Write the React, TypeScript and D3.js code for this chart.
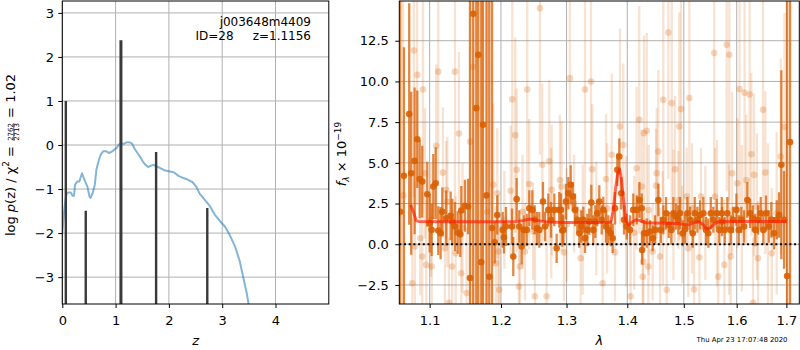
import { useEffect, useRef } from "react";
import * as d3 from "d3";

const WIDTH = 800;
const HEIGHT = 350;
const FONT = "'DejaVu Sans', sans-serif";

const PZ = { left: 62.3, right: 328.8, top: 1, bottom: 304 };
const SP = { left: 399.3, right: 799.3, top: 1, bottom: 304 };

const ORANGE = "#d95f02";

// ---- p(z) panel
const pzZ = [
  0, 0.02, 0.05, 0.08, 0.11, 0.16, 0.19, 0.22, 0.24, 0.28, 0.32, 0.34, 0.37, 0.39, 0.43,
  0.47, 0.51, 0.53, 0.57, 0.61, 0.64, 0.68, 0.72, 0.77, 0.82, 0.87, 0.92, 0.97, 1.02, 1.06,
  1.11, 1.16, 1.21, 1.26, 1.31, 1.36, 1.41, 1.46, 1.51, 1.56, 1.61, 1.64, 1.71, 1.76, 1.83,
  1.93, 2.02, 2.09, 2.18, 2.27, 2.36, 2.44, 2.51, 2.58, 2.67, 2.77, 2.86, 2.96, 3.05, 3.14,
  3.24, 3.33, 3.39, 3.46, 3.52, 3.56,
];
const pzLog = [
  -2.0, -1.7, -1.32, -1.11, -1.08, -1.08, -1.15, -1.15, -0.9, -0.83, -0.83, -0.75, -0.64, -0.71, -0.83,
  -0.94, -1.17, -1.2, -1.09, -0.9, -0.56, -0.37, -0.22, -0.14, -0.14, -0.18, -0.16, -0.11, -0.07, 0.01,
  0.03, 0.03, 0.06, 0.06, 0.03, -0.09, -0.18, -0.27, -0.37, -0.45, -0.5, -0.48, -0.45, -0.48, -0.52,
  -0.58, -0.6, -0.62, -0.7, -0.75, -0.79, -0.84, -0.94, -1.11, -1.24, -1.39, -1.58, -1.73, -1.85, -2.04,
  -2.3, -2.64, -2.98, -3.36, -3.8, -4.2,
];
const peakZ = [0.066, 0.44, 1.1, 1.76, 2.72];
const peakLog = [1.0, -1.49, 2.38, -0.16, -1.43];
const pzTicksX = [0, 1, 2, 3, 4];
const pzTicksY = [-3, -2, -1, 0, 1, 2, 3];

// ---- spectrum panel
const darkWave = [
  1.0612, 1.066, 1.0729, 1.0755, 1.08, 1.0835, 1.0867, 1.0901, 1.0968, 1.1, 1.1027, 1.1049, 1.1081,
  1.1116, 1.1148, 1.1171, 1.1225, 1.1285, 1.1308, 1.1345, 1.1383, 1.1419, 1.1433, 1.1484, 1.1527,
  1.1555, 1.1601, 1.1644, 1.1672, 1.1715, 1.174, 1.179, 1.183, 1.187,
  1.1909, 1.1946, 1.2025, 1.2044, 1.2073, 1.2163, 1.2182, 1.2232, 1.2271, 1.2307, 1.2338, 1.2383,
  1.2422, 1.2468, 1.2504, 1.2539, 1.2575, 1.2631, 1.2663, 1.2714, 1.2756, 1.2807, 1.2844, 1.2885, 1.2933,
  1.2912, 1.2949, 1.2991, 1.3028, 1.3066, 1.3098, 1.3135, 1.3172, 1.3204, 1.3237, 1.3269, 1.3296,
  1.3334, 1.3366, 1.3399, 1.3431, 1.3465, 1.3497, 1.353, 1.357, 1.3596, 1.3641, 1.3679, 1.372,
  1.3753, 1.3792, 1.3831, 1.3864, 1.3898, 1.3944, 1.399, 1.4047, 1.4103, 1.4163, 1.4208, 1.4255,
  1.4249, 1.4289, 1.4336, 1.4394, 1.4441, 1.4482, 1.4541, 1.4584, 1.463, 1.4679, 1.4726, 1.4773,
  1.481, 1.4859, 1.49, 1.4931, 1.4981, 1.5023, 1.5065, 1.5115, 1.5165, 1.5201, 1.525, 1.53, 1.5362,
  1.5412, 1.5455, 1.5502, 1.555, 1.5615, 1.5664, 1.5711,
  1.5716, 1.5768, 1.5818, 1.5884, 1.593, 1.5994, 1.604, 1.6091, 1.6144, 1.6209, 1.6263, 1.6316,
  1.6368, 1.6423, 1.6477, 1.6528, 1.6583, 1.6638, 1.6691, 1.6746, 1.6801, 1.6849, 1.6896, 1.6952,
  1.7015, 1.7076,
];
const darkFlux = [
  2.0, 4.2, 8.0, 4.36, 5.12, 6.45, 4.0, 3.85, 3.07, 1.29, 0.88, 3.55, 3.75,
  0.84, 0.68, 1.99, 1.6, 1.74, 1.39, 1.09, 0.72, 0.61, 2.07, 2.36, 2.32,
  -2.07, 14.16, 8.36, 11.64, -1.1, 7.34, 3.0, -2.0, 1.0,
  0.12, 1.8, 0.88, 0.43, 1.09, 1.09, -0.76, 2.77, 1.09, -0.14, 0.88, 0.88,
  2.21, 2.11, 1.5, 0.98, 0.88, 2.62, 1.09, 2.11, 1.5, 2.11, -0.25, 2.11, 0.84,
  2.11, 0.88, 2.62, 3.13, 3.65, 2.93, 2.11, 1.5, 0.68, 1.09, 1.5, 0.37,
  0.88, 1.39, 2.56, 0.88, 1.39, 1.9, 2.62, 1.5, 2.11, 1.09, 0.88, 0.68,
  0.37, 2.21, 4.57, 5.39, 3.13, 1.5, 1.09, 0.88, 2.11, 2.11, 2.72, -0.35,
  2.21, 0.68, 0.68, 0.78, 0.37, 0.88, 2.72, 0.88, 1.5, 1.9, 1.19, 0.88,
  1.9, 1.7, 1.5, 1.9, 0.68, 0.92, 1.9, 1.5, 0.68, 1.9, 1.5, 1.8, 1.9,
  0.88, 0.68, 1.9, 1.5, 1.9, 0.88, 1.9,
  1.39, 0.88, 1.9, 0.88, 1.5, 2.11, 0.88, 1.5, 1.09, 2.72, 1.9, 1.6,
  0.88, 1.5, 1.9, 0.88, 1.9, 1.09, 1.5, 0.68, 1.5, 1.8, 4.88, 1.5,
  -1.95, 6.27,
];
const darkErr = [
  20, 7.9, 6.8, 5, 4.5, 3.0, 2.4, 2.2, 2.0, 1.8, 1.6, 2.0, 2.2,
  1.5, 1.6, 1.5, 1.7, 1.5, 1.4, 1.5, 1.3, 1.4, 1.5, 1.6, 1.7,
  20, 20, 20, 20, 20, 20, 20, 18, 16,
  1.3, 1.2, 1.1, 1.0, 1.2, 1.1, 1.2, 1.3, 1.0, 1.1, 0.9, 1.0,
  1.1, 1.2, 0.9, 1.0, 1.1, 1.2, 0.9, 1.0, 1.1, 1.0, 0.9, 1.1, 1.0,
  1.0, 0.9, 1.1, 1.0, 1.2, 0.9, 1.0, 0.8, 0.9, 1.0, 0.8, 0.9,
  1.0, 0.8, 1.1, 0.9, 1.0, 0.8, 1.0, 0.9, 0.8, 1.0, 0.9, 0.8,
  0.9, 1.0, 1.0, 1.1, 1.0, 0.9, 0.8, 0.9, 1.0, 0.9, 1.1, 0.9,
  0.9, 0.8, 0.9, 0.7, 0.8, 0.9, 1.0, 0.8, 0.9, 1.0, 0.8, 0.9,
  1.0, 0.8, 0.9, 1.0, 0.8, 0.9, 1.0, 0.8, 0.9, 1.0, 0.8, 0.9, 1.0,
  0.8, 0.9, 1.0, 0.8, 0.9, 0.8, 1.0,
  0.9, 0.8, 1.0, 0.9, 0.8, 1.0, 0.9, 0.8, 1.0, 1.1, 0.9, 0.8,
  1.0, 0.9, 1.0, 0.9, 1.1, 1.0, 1.1, 1.0, 1.2, 1.4, 5.8, 3.0,
  20, 20,
];

const lightWave = [
  1.065, 1.0769, 1.0791, 1.0804, 1.0834, 1.0874, 1.0901, 1.091, 1.0937, 1.0954, 1.102, 1.1027,
  1.1089, 1.1116, 1.118, 1.1207, 1.1225, 1.124, 1.1262, 1.1307, 1.1345, 1.1355, 1.14, 1.1432,
  1.145, 1.1508, 1.1559, 1.1597, 1.18, 1.1888, 1.1927, 1.1946, 1.1961, 1.1975, 1.205, 1.2143,
  1.2167, 1.2211, 1.2232, 1.2266, 1.2281, 1.232, 1.2356, 1.2391, 1.2421, 1.248, 1.2508, 1.2584,
  1.262, 1.2688, 1.2728, 1.276, 1.2766, 1.2895, 1.2922, 1.2958, 1.3, 1.3053, 1.312, 1.3226,
  1.326, 1.3296, 1.3394, 1.3415, 1.348, 1.3586, 1.3641, 1.366, 1.3737, 1.3792, 1.3876, 1.3932,
  1.398, 1.4058, 1.412, 1.4161, 1.4206, 1.4248, 1.4266, 1.4276, 1.4288, 1.4336, 1.4364, 1.437,
  1.4441, 1.45, 1.4512, 1.454, 1.4571, 1.462, 1.4629, 1.469, 1.4719, 1.478, 1.481, 1.484,
  1.49, 1.4918, 1.4949, 1.497, 1.5053, 1.5083, 1.5101, 1.515, 1.5188, 1.5287, 1.5318, 1.54,
  1.5568, 1.5582, 1.562, 1.5644, 1.576, 1.5806, 1.585, 1.5856, 1.5883, 1.5909, 1.6012, 1.6055,
  1.61, 1.6154, 1.6189, 1.6253, 1.6288, 1.6322, 1.6342, 1.64, 1.6422, 1.6522, 1.6569, 1.662,
  1.6699, 1.68, 1.6884, 1.6962,
];
const lightFlux = [
  3.0, -2.4, 11.9, -0.14, 10.4, 0.37, -0.76, 9.5, 4.36, -1.27, 1.5, -1.37,
  6.05, 10.6, 4.4, -0.25, 3.34, 2.6, -3.6, -1.37, 10.6, -0.55, 6.8, -1.78,
  1.0, -3.0, 6.3, 10.9, 2.0, 3.65, -1.17, 3.13, -0.45, -2.8, 1.5, 3.28,
  8.9, 6.7, 4.57, -2.6, -1.37, 2.0, -0.45, 9.5, 3.7, 0.8, -3.2, 14.5,
  4.88, -3.2, 5.1, 1.9, 3.34, 3.95, 3.55, -0.5, 1.2, 10.2, 2.5, -0.86,
  0.9, 9.5, 10.0, 4.6, 1.6, -2.4, 4.0, 2.2, 5.5, -0.5, 7.23, 6.1,
  1.4, -3.2, 0.7, 4.67, 7.64, 3.55, -2.0, -1.07, 6.82, 6.97, -1.37, 2.1,
  -0.45, 3.6, 4.36, 5.7, -0.76, 1.0, 8.87, -2.8, 13.0, 8.67, 1.8, 4.6,
  2.72, 7.23, 8.3, 0.6, 2.93, -0.25, 8.98, 2.2, -2.77, -0.8, 2.93, 1.3,
  11.74, 2.93, 1.9, -1.99, -1.27, 12.25, 0.9, 11.64, -0.76, 4.36, 3.75, 9.53,
  1.6, 9.3, 3.95, 9.2, 5.53, -3.6, 4.26, 2.3, -0.86, 8.26, 4.4, 1.2,
  -0.55, 1.9, 5.39, 7.2,
];
const lightErr = [
  15, 4, 9, 4, 8, 3.5, 4, 7, 4, 4, 3.5, 3.5,
  5, 7, 4, 3.5, 3, 4, 4, 3.5, 8, 3.5, 5, 3.5,
  4, 4, 12, 15, 16, 5, 3.5, 4, 3.5, 4, 3, 4,
  8, 6, 5, 4, 3, 3.5, 3, 7, 4, 3, 4, 9,
  5, 4, 5, 4, 4, 4, 4, 3, 3.5, 8, 3, 3,
  4, 8, 8, 4, 3.5, 4, 4, 4, 5, 3, 6, 5,
  4, 4, 3.5, 5, 7, 3.5, 3, 3, 6, 6, 3, 4,
  3, 3.5, 4, 5, 3, 3.5, 8, 4, 9, 8, 4, 4.5,
  3, 7, 7, 3, 3, 3, 7, 4, 4, 3, 3, 3.5,
  9, 3, 4.5, 4, 4, 9, 4, 9, 3, 5, 4, 8,
  4.5, 8, 4, 8, 5, 4, 5, 4.5, 3.5, 7, 5, 5,
  4, 5, 6, 7,
];

const modelWave = [
  1.0747, 1.0791, 1.082, 1.085, 1.15, 1.22, 1.232, 1.243, 1.255, 1.27, 1.3, 1.35, 1.372, 1.376,
  1.38, 1.384, 1.387, 1.39, 1.394, 1.398, 1.402, 1.408, 1.415, 1.422, 1.432, 1.45, 1.49, 1.5,
  1.51, 1.518, 1.528, 1.536, 1.541, 1.546, 1.552, 1.558, 1.565, 1.6, 1.65, 1.701,
];
const modelFlux = [
  2.42, 1.9, 1.45, 1.4, 1.38, 1.38, 1.45, 1.55, 1.45, 1.36, 1.33, 1.33, 1.35, 2.0,
  3.4, 4.4, 4.6, 4.0, 2.6, 1.4, 1.2, 1.35, 1.5, 1.45, 1.32, 1.3, 1.28, 1.22,
  1.2, 1.32, 1.38, 1.2, 0.98, 0.95, 1.1, 1.3, 1.38, 1.4, 1.4, 1.4,
];
const spTicksX = [1.1, 1.2, 1.3, 1.4, 1.5, 1.6, 1.7];
const spTicksY = [-2.5, 0, 2.5, 5, 7.5, 10, 12.5];

type Pt = { w: number; f: number; e: number };

export default function App() {
  const svgRef = useRef<SVGSVGElement | null>(null);

  useEffect(() => {
    if (!svgRef.current) return;
    const svg = d3.select(svgRef.current);
    svg.selectAll("*").remove();

    const defs = svg.append("defs");
    defs.append("clipPath").attr("id", "clip-pz").append("rect")
      .attr("x", PZ.left).attr("y", PZ.top)
      .attr("width", PZ.right - PZ.left).attr("height", PZ.bottom - PZ.top);
    defs.append("clipPath").attr("id", "clip-sp").append("rect")
      .attr("x", SP.left).attr("y", SP.top)
      .attr("width", SP.right - SP.left).attr("height", SP.bottom - SP.top);

    const styleAxis = (g: any) => {
      g.attr("font-family", null).attr("font-size", null);
      g.selectAll(".domain").remove();
      g.selectAll("line").attr("stroke", "#000").attr("stroke-width", 1);
      g.selectAll("text").attr("fill", "#000")
        .style("font-family", FONT).style("font-size", "13px");
    };

    // ================= left: log p(z)
    const zx = d3.scaleLinear().domain([0, 5]).range([PZ.left, PZ.right]);
    const zy = d3.scaleLinear().domain([-3.61, 3.27]).range([PZ.bottom, PZ.top]);

    const pzGrid = svg.append("g").attr("stroke", "#b0b0b0").attr("stroke-width", 1);
    pzGrid.selectAll("line.vx").data(pzTicksX).enter().append("line")
      .attr("x1", (d: number) => zx(d)).attr("x2", (d: number) => zx(d))
      .attr("y1", PZ.top).attr("y2", PZ.bottom);
    pzGrid.selectAll("line.hy").data(pzTicksY).enter().append("line")
      .attr("x1", PZ.left).attr("x2", PZ.right)
      .attr("y1", (d: number) => zy(d)).attr("y2", (d: number) => zy(d));

    const pzPlot = svg.append("g").attr("clip-path", "url(#clip-pz)");
    pzPlot.append("path")
      .datum(pzZ.map((z, i) => [z, pzLog[i]] as [number, number]))
      .attr("fill", "none")
      .attr("stroke", "#1f77b4")
      .attr("stroke-opacity", 0.55)
      .attr("stroke-width", 2)
      .attr("stroke-linejoin", "round")
      .attr("d", d3.line<[number, number]>().x((d) => zx(d[0])).y((d) => zy(d[1])));

    pzPlot.selectAll("line.peak").data(peakZ).enter().append("line")
      .attr("x1", (d: number) => zx(d)).attr("x2", (d: number) => zx(d))
      .attr("y1", PZ.bottom)
      .attr("y2", (_d: number, i: number) => zy(peakLog[i]))
      .attr("stroke", "#3a3a3a")
      .attr("stroke-width", (_d: number, i: number) => (i === 2 ? 3 : 2.4));

    svg.append("g")
      .attr("transform", `translate(0,${PZ.bottom})`)
      .call(d3.axisBottom(zx).tickValues(pzTicksX).tickFormat(d3.format("d")).tickSize(4).tickPadding(8).tickSizeOuter(0))
      .call(styleAxis);
    svg.append("g")
      .attr("transform", `translate(${PZ.left},0)`)
      .call(d3.axisLeft(zy).tickValues(pzTicksY).tickFormat(d3.format("d")).tickSize(4).tickPadding(4.3).tickSizeOuter(0))
      .call(styleAxis);

    svg.append("rect")
      .attr("x", PZ.left).attr("y", PZ.top)
      .attr("width", PZ.right - PZ.left).attr("height", PZ.bottom - PZ.top)
      .attr("fill", "none").attr("stroke", "#000").attr("stroke-width", 1);

    const ann = svg.append("g").style("font-family", FONT).style("font-size", "12px");
    ann.append("text").attr("x", 311).attr("y", 26).attr("text-anchor", "end").text("j003648m4409");
    ann.append("text").attr("x", 311).attr("y", 40).attr("text-anchor", "end")
      .style("white-space", "pre").text("ID=28     z=1.1156");

    svg.append("text")
      .attr("x", (PZ.left + PZ.right) / 2).attr("y", 345)
      .attr("text-anchor", "middle")
      .style("font-family", FONT).style("font-size", "13px").style("font-style", "italic")
      .text("z");

    // y label with a small fraction, laid out piece by piece
    const lab = svg.append("g").attr("transform", "translate(14.5,155) rotate(-90)")
      .style("font-family", FONT);
    const inner = lab.append("g");
    let cx = 0;
    const piece = (s: string, size: number, y: number, italic = false) => {
      const t = inner.append("text").attr("x", cx).attr("y", y)
        .style("font-size", `${size}px`).style("white-space", "pre")
        .style("font-style", italic ? "italic" : "normal").text(s);
      const w = (t.node() as SVGTextElement).getComputedTextLength();
      cx += w;
      return w;
    };
    piece("log ", 13, 0);
    piece("p", 13, 0, true);
    piece("(z) / \u03c7", 13, 0);
    piece("2", 9, -5.5);
    piece(" = ", 13, 0);
    const fx = cx + 1;
    const num = inner.append("text").attr("x", fx).attr("y", -1.6).style("font-size", "7px").text("2762");
    const den = inner.append("text").attr("x", fx).attr("y", 4.8).style("font-size", "7px").text("2713");
    const fw = Math.max(
      (num.node() as SVGTextElement).getComputedTextLength(),
      (den.node() as SVGTextElement).getComputedTextLength(),
    );
    inner.append("line").attr("x1", fx).attr("x2", fx + fw).attr("y1", -0.7).attr("y2", -0.7)
      .attr("stroke", "#000").attr("stroke-width", 0.6);
    cx = fx + fw + 1;
    piece(" = 1.02", 13, 0);
    inner.attr("transform", `translate(${-cx / 2},0)`);

    // ================= right: spectrum
    const wx = d3.scaleLog().domain([1.06, 1.727]).range([SP.left, SP.right]);
    const fy = d3.scaleLinear().domain([-3.67, 14.94]).range([SP.bottom, SP.top]);

    const spGrid = svg.append("g").attr("stroke", "#b0b0b0").attr("stroke-width", 1);
    spGrid.selectAll("line.vx").data(spTicksX).enter().append("line")
      .attr("x1", (d: number) => wx(d)).attr("x2", (d: number) => wx(d))
      .attr("y1", SP.top).attr("y2", SP.bottom);
    spGrid.selectAll("line.hy").data(spTicksY).enter().append("line")
      .attr("x1", SP.left).attr("x2", SP.right)
      .attr("y1", (d: number) => fy(d)).attr("y2", (d: number) => fy(d));

    const light: Pt[] = lightWave.map((w, i) => ({ w, f: lightFlux[i], e: lightErr[i] }));
    const dark: Pt[] = darkWave.map((w, i) => ({ w, f: darkFlux[i], e: darkErr[i] }));

    const spPlot = svg.append("g").attr("clip-path", "url(#clip-sp)");

    const drawSeries = (data: Pt[], cls: string, barOp: number, dotOp: number) => {
      spPlot.selectAll(`line.${cls}`).data(data).enter().append("line")
        .attr("class", cls)
        .attr("x1", (d: Pt) => wx(d.w)).attr("x2", (d: Pt) => wx(d.w))
        .attr("y1", (d: Pt) => fy(d.f - d.e)).attr("y2", (d: Pt) => fy(d.f + d.e))
        .attr("stroke", ORANGE).attr("stroke-opacity", barOp).attr("stroke-width", 2.3);
      spPlot.selectAll(`circle.${cls}`).data(data).enter().append("circle")
        .attr("class", cls)
        .attr("cx", (d: Pt) => wx(d.w)).attr("cy", (d: Pt) => fy(d.f))
        .attr("r", 3.3)
        .attr("fill", ORANGE).attr("fill-opacity", dotOp);
    };
    drawSeries(light, "light", 0.18, 0.25);
    drawSeries(dark, "dark", 0.75, 0.9);

    spPlot.append("path")
      .datum(modelWave.map((w, i) => [w, modelFlux[i]] as [number, number]))
      .attr("fill", "none")
      .attr("stroke", "#ff1a00")
      .attr("stroke-opacity", 0.65)
      .attr("stroke-width", 3)
      .attr("stroke-linejoin", "round")
      .attr("d", d3.line<[number, number]>().x((d) => wx(d[0])).y((d) => fy(d[1])));

    spPlot.append("line")
      .attr("x1", SP.left).attr("x2", SP.right)
      .attr("y1", fy(0)).attr("y2", fy(0))
      .attr("stroke", "#000").attr("stroke-width", 2)
      .attr("stroke-dasharray", "2,2.7");

    svg.append("g")
      .attr("transform", `translate(0,${SP.bottom})`)
      .call(d3.axisBottom(wx).tickValues(spTicksX).tickFormat(d3.format(".1f")).tickSize(4).tickPadding(8).tickSizeOuter(0))
      .call(styleAxis);
    svg.append("g")
      .attr("transform", `translate(${SP.left},0)`)
      .call(d3.axisLeft(fy).tickValues(spTicksY).tickFormat(d3.format(".1f")).tickSize(4).tickPadding(6.5).tickSizeOuter(0))
      .call(styleAxis);

    svg.append("rect")
      .attr("x", SP.left).attr("y", SP.top)
      .attr("width", SP.right - SP.left).attr("height", SP.bottom - SP.top)
      .attr("fill", "none").attr("stroke", "#000").attr("stroke-width", 1);

    svg.append("text")
      .attr("x", (SP.left + SP.right) / 2).attr("y", 345)
      .attr("text-anchor", "middle")
      .style("font-family", FONT).style("font-size", "13px").style("font-style", "italic")
      .text("\u03bb");

    const yl = svg.append("text")
      .attr("transform", "translate(346,154) rotate(-90)")
      .attr("text-anchor", "middle")
      .style("font-family", FONT).style("font-size", "13px");
    yl.append("tspan").style("font-style", "italic").text("f");
    yl.append("tspan").attr("dy", 3).style("font-size", "9px").style("font-style", "italic").text("\u03bb");
    yl.append("tspan").attr("dy", -3).style("white-space", "pre").text(" \u00d7 10");
    yl.append("tspan").attr("dy", -5).style("font-size", "9px").text("\u221219");

    svg.append("text")
      .attr("x", 787.5).attr("y", 342)
      .attr("text-anchor", "end")
      .style("font-family", FONT).style("font-size", "6.9px")
      .text("Thu Apr 23 17:07:48 2020");
  }, []);

  return (
    <svg
      ref={svgRef}
      width={WIDTH}
      height={HEIGHT}
      style={{ position: "absolute", left: 0, top: 0, background: "#fff" }}
    />
  );
}
